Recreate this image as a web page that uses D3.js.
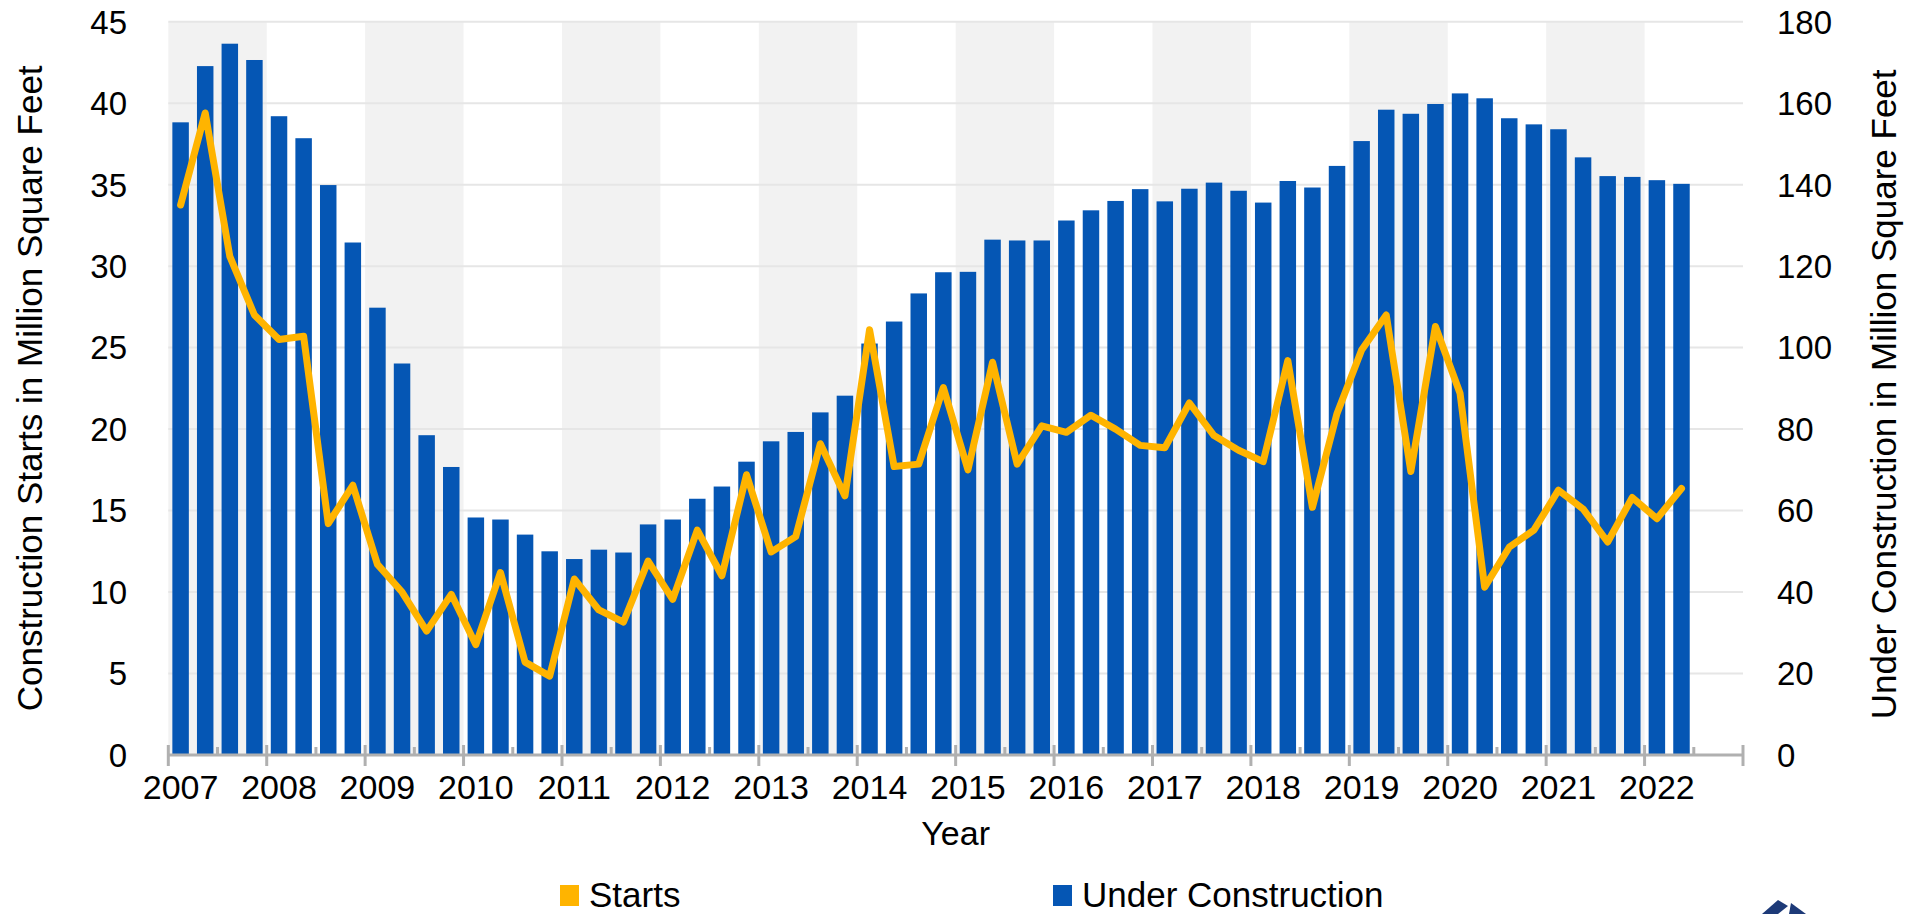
<!DOCTYPE html>
<html>
<head>
<meta charset="UTF-8">
<style>
body, html {
    margin: 0;
    padding: 0;
    width: 100%;
    height: 100%;
    overflow: hidden;
    background-color: #ffffff;
}
svg text {
    font-family: "Liberation Sans", Arial, sans-serif;
    fill: #000;
}
</style>
</head>
<body>
<svg id="chart"></svg>
<script src="https://d3js.org/d3.v7.min.js"></script>
<script>
// year labels on the x axis
let years = [2007, 2008, 2009, 2010, 2011, 2012, 2013, 2014, 2015, 2016, 2017, 2018, 2019, 2020, 2021, 2022];

// under construction, million sq ft (right axis), 2007Q1 .. 2022Q2
let underConstruction = [
    155.3, 169.1, 174.6, 170.6,
    156.8, 151.4, 139.9, 125.8,
    109.8, 96.1, 78.5, 70.7,
    58.3, 57.8, 54.1, 50.0,
    48.1, 50.4, 49.7, 56.6,
    57.8, 62.9, 65.9, 72.0,
    77.0, 79.3, 84.1, 88.2,
    101.0, 106.4, 113.3, 118.5,
    118.6, 126.5, 126.3, 126.3,
    131.2, 133.7, 136.0, 138.9,
    135.9, 139.0, 140.5, 138.5,
    135.6, 140.9, 139.3, 144.6,
    150.7, 158.4, 157.4, 159.8,
    162.4, 161.2, 156.3, 154.8,
    153.6, 146.7, 142.1, 141.9,
    141.1, 140.2
];

// construction starts, million sq ft (left axis)
let starts = [
    33.75, 39.4, 30.6, 27.0,
    25.5, 25.7, 14.2, 16.55,
    11.7, 10.0, 7.6, 9.86,
    6.77, 11.2, 5.7, 4.84,
    10.8, 8.9, 8.16, 11.9,
    9.55, 13.8, 11.0, 17.2,
    12.46, 13.4, 19.1, 15.9,
    26.1, 17.7, 17.85, 22.55,
    17.5, 24.1, 17.85, 20.2,
    19.8, 20.85, 20.0, 19.0,
    18.85, 21.6, 19.6, 18.7,
    18.0, 24.2, 15.2, 20.96,
    24.85, 27.0, 17.4, 26.3,
    22.2, 10.3, 12.75, 13.8,
    16.25, 15.1, 13.07, 15.8,
    14.5, 16.35
];

let leftTicks = [0, 5, 10, 15, 20, 25, 30, 35, 40, 45];
let rightTicks = [0, 20, 40, 60, 80, 100, 120, 140, 160, 180];

let width = 1919, height = 914;
let plotLeft = 168.3, plotRight = 1743, plotTop = 21.7, plotBottom = 755;

let svg = d3.select("#chart")
    .attr("width", width)
    .attr("height", height);

// quarter position as fractional year (centre of the quarter)
let qYear = i => years[0] + Math.floor(i / 4) + ((i % 4) + 0.5) / 4;

let x = d3.scaleLinear().domain([2007, 2023]).range([plotLeft, plotRight]);
let yLeft = d3.scaleLinear().domain([0, 45]).range([plotBottom, plotTop]);
let yRight = d3.scaleLinear().domain([0, 180]).range([plotBottom, plotTop]);

// alternating year bands
svg.append("g")
    .selectAll("rect")
    .data(years.filter((d, i) => i % 2 == 0))
    .enter()
    .append("rect")
    .attr("x", d => x(d))
    .attr("y", plotTop)
    .attr("width", d => x(d + 1) - x(d))
    .attr("height", plotBottom - plotTop)
    .attr("fill", "#f2f2f2");

// gridlines
svg.append("g")
    .selectAll("line")
    .data(leftTicks.slice(1))
    .enter()
    .append("line")
    .attr("x1", plotLeft)
    .attr("x2", plotRight)
    .attr("y1", d => yLeft(d))
    .attr("y2", d => yLeft(d))
    .attr("stroke", "#e6e6e6")
    .attr("stroke-width", 2);

// bars
let qw = x(2007.25) - x(2007);
let bw = qw * 0.67;
svg.append("g")
    .selectAll("rect")
    .data(underConstruction)
    .enter()
    .append("rect")
    .attr("x", (d, i) => x(qYear(i)) - bw / 2)
    .attr("y", d => yRight(d))
    .attr("width", bw)
    .attr("height", d => plotBottom - yRight(d))
    .attr("fill", "#0556b4");

// x axis line and ticks
let axisG = svg.append("g").attr("stroke", "#b0b0b0");
axisG.append("line")
    .attr("x1", plotLeft).attr("x2", plotRight)
    .attr("y1", plotBottom).attr("y2", plotBottom)
    .attr("stroke-width", 3);
axisG.selectAll(".major")
    .data(years.concat([2023]))
    .enter()
    .append("line")
    .attr("class", "major")
    .attr("x1", d => x(d)).attr("x2", d => x(d))
    .attr("y1", plotBottom - 10).attr("y2", plotBottom + 11)
    .attr("stroke-width", 3);
axisG.selectAll(".minor")
    .data(years)
    .enter()
    .append("line")
    .attr("class", "minor")
    .attr("x1", d => x(d + 0.5)).attr("x2", d => x(d + 0.5))
    .attr("y1", plotBottom - 8).attr("y2", plotBottom)
    .attr("stroke-width", 3);

// starts line
let line = d3.line()
    .x((d, i) => x(qYear(i)))
    .y(d => yLeft(d));

svg.append("path")
    .datum(starts)
    .attr("d", line)
    .attr("fill", "none")
    .attr("stroke", "#ffb400")
    .attr("stroke-width", 7)
    .attr("stroke-linejoin", "round")
    .attr("stroke-linecap", "round");

// tick labels
svg.append("g")
    .selectAll("text")
    .data(leftTicks)
    .enter()
    .append("text")
    .attr("x", 127)
    .attr("y", d => yLeft(d))
    .attr("dy", "0.36em")
    .attr("text-anchor", "end")
    .style("font-size", "33px")
    .text(d => d);

svg.append("g")
    .selectAll("text")
    .data(rightTicks)
    .enter()
    .append("text")
    .attr("x", 1777)
    .attr("y", d => yRight(d))
    .attr("dy", "0.36em")
    .attr("text-anchor", "start")
    .style("font-size", "33px")
    .text(d => d);

svg.append("g")
    .selectAll("text")
    .data(years)
    .enter()
    .append("text")
    .attr("x", d => x(d + 0.125))
    .attr("y", 799)
    .attr("text-anchor", "middle")
    .style("font-size", "34px")
    .text(d => d);

// axis titles
svg.append("text")
    .attr("transform", `translate(42, ${(plotTop + plotBottom) / 2}) rotate(-90)`)
    .attr("text-anchor", "middle")
    .style("font-size", "35px")
    .text("Construction Starts in Million Square Feet");

svg.append("text")
    .attr("transform", `translate(1896, ${(plotTop + plotBottom) / 2 + 6}) rotate(-90)`)
    .attr("text-anchor", "middle")
    .style("font-size", "35px")
    .text("Under Construction in Million Square Feet");

svg.append("text")
    .attr("x", (plotLeft + plotRight) / 2)
    .attr("y", 845)
    .attr("text-anchor", "middle")
    .style("font-size", "34px")
    .text("Year");

// legend
let legendData = [
    { color: "#ffb400", label: "Starts", x: 560 },
    { color: "#0556b4", label: "Under Construction", x: 1053 }
];

let legendItem = svg.selectAll(".legend-item")
    .data(legendData)
    .enter()
    .append("g")
    .attr("class", "legend-item")
    .attr("transform", d => `translate(${d.x}, 885)`);

legendItem.append("rect")
    .attr("width", 19)
    .attr("height", 21)
    .attr("fill", d => d.color);

legendItem.append("text")
    .attr("x", 29)
    .attr("y", 22)
    .style("font-size", "35px")
    .text(d => d.label);

// partial logo in the bottom right corner
let logo = svg.append("g").attr("fill", "#1d3a78");
logo.append("path").attr("d", "M1762,914 L1778,900 L1788,906 L1778,914 Z");
logo.append("path").attr("d", "M1789,914 L1791,903 L1806,914 Z");
</script>
</body>
</html>
